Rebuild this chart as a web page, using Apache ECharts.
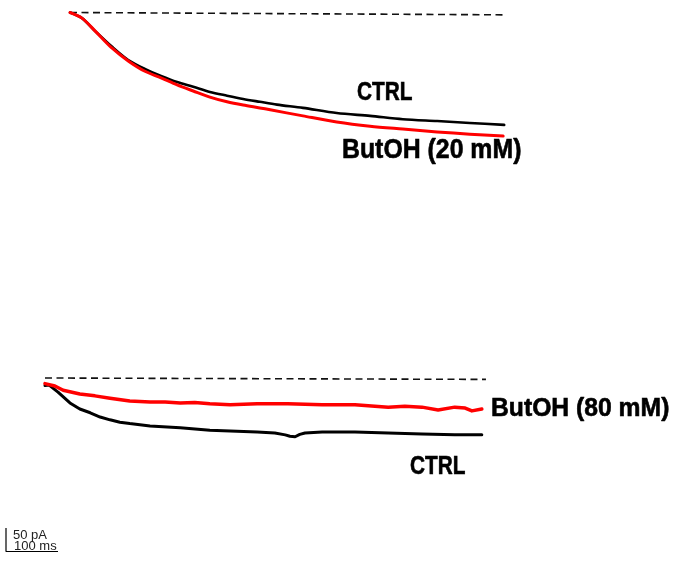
<!DOCTYPE html>
<html>
<head>
<meta charset="utf-8">
<script src="https://cdn.jsdelivr.net/npm/echarts@6/dist/echarts.min.js"></script>
<style>
  html, body { margin: 0; padding: 0; background: #fff; }
  #chart { width: 680px; height: 561px; }
</style>
</head>
<body>
<div id="chart"></div>
<script>
// Whole-cell current traces (time in ms, current in pA)

// Experiment 1: CTRL vs ButOH 20 mM
const ctrl20Time = [0, 23, 48, 81, 112, 144, 175, 206, 237, 269, 302, 333, 365, 398, 448, 513, 577, 640, 706, 769, 835];
const ctrl20Current = [0, -12, -39, -73, -101, -120, -135, -148, -158, -169, -177, -184, -190, -196, -203, -214, -220, -227, -231, -235, -239];
const butoh20Time = [0, 23, 48, 81, 112, 144, 175, 206, 237, 269, 302, 333, 365, 385, 448, 513, 577, 640, 706, 769, 833];
const butoh20Current = [0, -12, -39, -76, -103, -125, -139, -154, -167, -180, -190, -197, -203, -207, -220, -233, -242, -248, -254, -259, -263];
const baseline20Time = [0, 840];
const baseline20Current = [0, -5];

// Experiment 2: CTRL vs ButOH 80 mM
const ctrl80Time = [0, 8, 25, 48, 67, 87, 106, 125, 144, 163, 202, 260, 317, 356, 408, 442, 462, 471, 481, 490, 500, 533, 596, 660, 725, 788, 840];
const ctrl80Current = [-16, -15, -30, -53, -66, -74, -83, -89, -94, -97, -102, -106, -111, -113, -115, -117, -121, -124, -125, -120, -117, -115, -115, -117, -119, -121, -121];
const butoh80Time = [0, 19, 35, 67, 96, 125, 163, 202, 231, 260, 288, 317, 356, 408, 467, 533, 596, 660, 692, 725, 756, 788, 808, 821, 840];
const butoh80Current = [-12, -17, -26, -34, -38, -43, -49, -51, -51, -53, -52, -55, -57, -55, -55, -57, -57, -62, -60, -62, -68, -62, -64, -70, -66];
const baseline80Time = [0, 848];
const baseline80Current = [0, -3];

// Calibration bar
const scaleBarTime = [0, 0, 100];
const scaleBarCurrent = [50, 0, 0];
const scaleBarLabels = ['50 pA', '100 ms'];

// Trace labels
const labels20 = ['CTRL', 'ButOH (20 mM)'];
const labels80 = ['ButOH (80 mM)', 'CTRL'];

// Shared drawing scale so both panels and the calibration bar agree
const PX_PER_MS = 0.52;
const PX_PER_PA = 0.47;
const X_MAX = 850;

const pairs = (t, v) => t.map((x, i) => [x, v[i]]);

function panelGrid(left, top, yMin, yMax, xMax) {
  return {
    left: left,
    top: top,
    width: xMax * PX_PER_MS,
    height: (yMax - yMin) * PX_PER_PA,
    containLabel: false
  };
}

const grids = [
  panelGrid(70, 12.5, -280, 0, X_MAX),
  panelGrid(45, 378, -140, 0, X_MAX),
  panelGrid(6, 551.5 - 50 * PX_PER_PA, 0, 50, 100)
];

const hiddenX = (idx, max) => ({ type: 'value', gridIndex: idx, min: 0, max: max, show: false });
const hiddenY = (idx, min, max) => ({ type: 'value', gridIndex: idx, min: min, max: max, show: false });

function trace(idx, data, color, width, smooth) {
  return {
    type: 'line',
    xAxisIndex: idx,
    yAxisIndex: idx,
    data: data,
    showSymbol: false,
    symbol: 'none',
    clip: false,
    smooth: smooth,
    lineStyle: { color: color, width: width, cap: 'round', join: 'round' },
    silent: true
  };
}

function dashed(idx, data) {
  return {
    type: 'line',
    xAxisIndex: idx,
    yAxisIndex: idx,
    data: data,
    symbol: 'none',
    clip: false,
    lineStyle: { color: '#111', width: 1.6, type: [7, 4.5] },
    silent: true
  };
}

function label(text, x, y, size, sx) {
  return {
    type: 'text',
    x: x,
    y: y,
    scaleX: sx,
    silent: true,
    style: {
      text: text,
      font: 'bold ' + size + 'px "Liberation Sans", Arial, sans-serif',
      fill: '#000',
      stroke: '#000',
      lineWidth: 0.6,
      textAlign: 'left',
      textVerticalAlign: 'middle'
    }
  };
}
function smallLabel(text, x, y) {
  return {
    type: 'text',
    x: x,
    y: y,
    silent: true,
    style: {
      text: text,
      font: '13px "Liberation Sans", Arial, sans-serif',
      fill: '#222',
      textAlign: 'left',
      textVerticalAlign: 'middle'
    }
  };
}

const chart = echarts.init(document.getElementById('chart'), null, { renderer: 'canvas' });
chart.setOption({
  animation: false,
  backgroundColor: '#fff',
  grid: grids,
  xAxis: [hiddenX(0, X_MAX), hiddenX(1, X_MAX), hiddenX(2, 100)],
  yAxis: [hiddenY(0, -280, 0), hiddenY(1, -140, 0), hiddenY(2, 0, 50)],
  series: [
    dashed(0, pairs(baseline20Time, baseline20Current)),
    trace(0, pairs(ctrl20Time, ctrl20Current), '#000', 2.6, 0.3),
    trace(0, pairs(butoh20Time, butoh20Current), '#ff0000', 3, 0.3),
    dashed(1, pairs(baseline80Time, baseline80Current)),
    trace(1, pairs(ctrl80Time, ctrl80Current), '#000', 3, false),
    trace(1, pairs(butoh80Time, butoh80Current), '#ff0000', 3.5, false),
    {
      type: 'line',
      xAxisIndex: 2,
      yAxisIndex: 2,
      data: pairs(scaleBarTime, scaleBarCurrent),
      symbol: 'none',
      clip: false,
      lineStyle: { color: '#000', width: 1.2 },
      silent: true
    }
  ],
  graphic: [
    label(labels20[0], 357, 92.5, 26, 0.8),
    label(labels20[1], 342, 151, 27, 0.92),
    label(labels80[0], 491, 409, 26, 0.95),
    label(labels80[1], 410, 466.5, 26, 0.8),
    smallLabel(scaleBarLabels[0], 13, 535.5),
    smallLabel(scaleBarLabels[1], 14, 546.5)
  ]
});
</script>
</body>
</html>
